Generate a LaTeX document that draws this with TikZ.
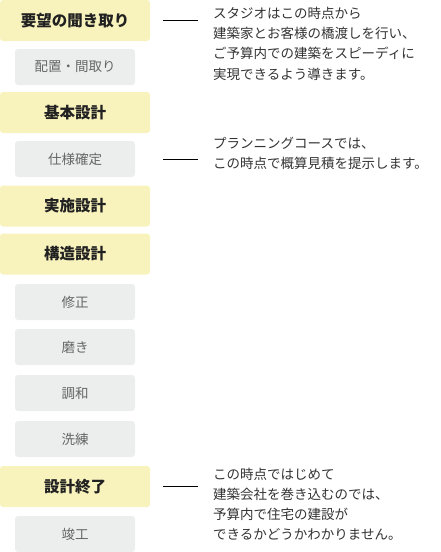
\documentclass[tikz,border=0pt]{standalone}
\usepackage{fontspec}
\setmainfont{Noto Sans CJK JP}
\definecolor{stepyellow}{HTML}{F8F2BD}
\definecolor{stepgray}{HTML}{ECEDED}
\definecolor{subtext}{HTML}{666666}
\definecolor{notetext}{HTML}{333333}
\begin{document}
\begin{tikzpicture}[x=1pt,y=-1pt,font=\fontsize{13.5}{20.2}\selectfont]
  \tikzset{mainbox/.style={fill=stepyellow, rounded corners=3pt, minimum width=150pt, minimum height=41pt, inner sep=0pt, text=black!87, font=\fontsize{15.5}{18}\selectfont\bfseries},
    subbox/.style={fill=stepgray, rounded corners=3pt, minimum width=120pt, minimum height=36pt, inner sep=0pt, text=subtext},
    note/.style={anchor=north west, align=left, inner sep=0pt, text=notetext},
    tick/.style={line width=0.9pt}}
  \useasboundingbox (0,0) rectangle (441,552);
  \node[mainbox] (hearing) at (75,20.5) {要望の聞き取り};
  \node[subbox] (layout) at (75,67) {配置・間取り};
  \node[mainbox] (basic) at (75,112.5) {基本設計};
  \node[subbox] (spec) at (75,159) {仕様確定};
  \node[mainbox] (detail) at (75,206) {実施設計};
  \node[mainbox] (struct) at (75,254) {構造設計};
  \node[subbox] (fix) at (75,302) {修正};
  \node[subbox] (polish) at (75,347) {磨き};
  \node[subbox] (harmony) at (75,393) {調和};
  \node[subbox] (refine) at (75,439) {洗練};
  \node[mainbox] (done) at (75,486.5) {設計終了};
  \node[subbox] (built) at (75,534) {竣工};
  % notes on the right
  \node[note] (note1) at (213,7) {スタジオはこの時点から\\建築家とお客様の橋渡しを行い、\\ご予算内での建築をスピーディに\\実現できるよう導きます。};
  \node[note] (note2) at (213,137) {プランニングコースでは、\\この時点で概算見積を提示します。};
  \node[note] (note3) at (213,467.5) {この時点ではじめて\\建築会社を巻き込むのでは、\\予算内で住宅の建設が\\できるかどうかわかりません。};
  \draw[tick] ([xshift=13pt]hearing.east) -- ([xshift=48pt]hearing.east);
  \draw[tick] ([xshift=28pt]spec.east) -- ([xshift=63pt]spec.east);
  \draw[tick] ([xshift=13pt]done.east) -- ([xshift=48pt]done.east);
\end{tikzpicture}
\end{document}
